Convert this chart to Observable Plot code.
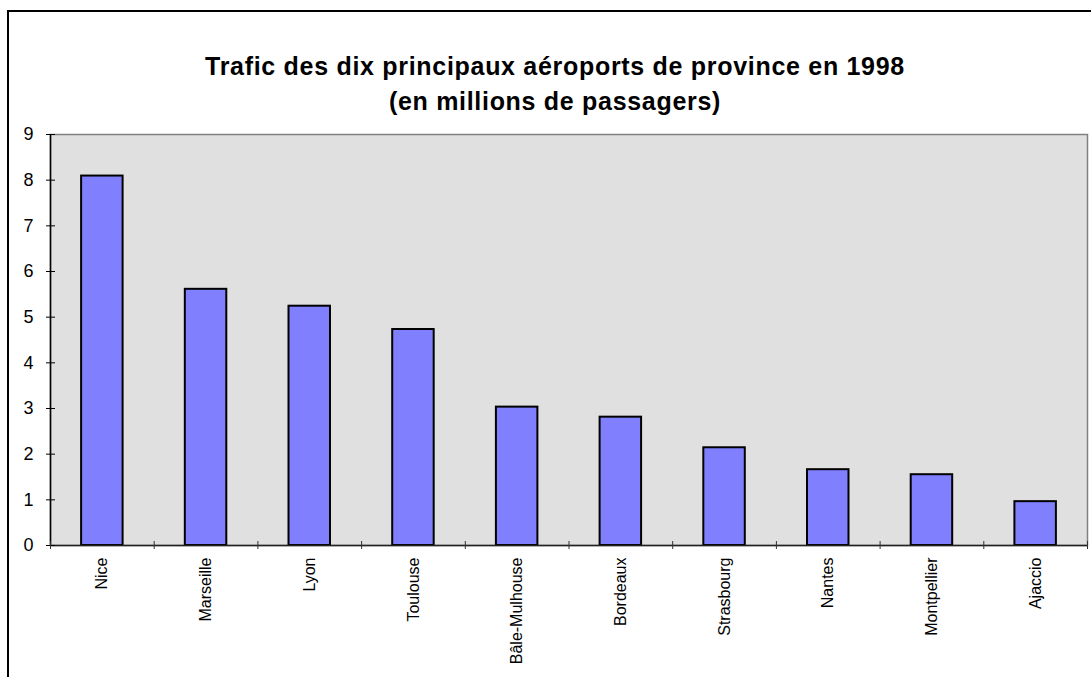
<!DOCTYPE html>
<html>
<head>
<meta charset="utf-8">
<script src="https://cdn.jsdelivr.net/npm/d3@7"></script>
<script src="https://cdn.jsdelivr.net/npm/@observablehq/plot@0.6"></script>
<style>
  html, body { margin: 0; padding: 0; background: #fff; overflow: hidden; }
  #wrap { position: relative; width: 1091px; height: 677px; font-family: "Liberation Sans", Arial, sans-serif; }
  #frame { position: absolute; left: 7px; top: 10px; width: 1200px; height: 800px; border: 2px solid #000; box-sizing: border-box; }
  .title { position: absolute; left: 0; width: 1110px; text-align: center; font-weight: bold; font-size: 25px; letter-spacing: 0.7px; color: #000; white-space: nowrap; }
  #chart { position: absolute; left: 0; top: 0; }
</style>
</head>
<body>
<div id="wrap">
  <div id="frame"></div>
  <div class="title" id="t1" style="top:52px">Trafic des dix principaux aéroports de province en 1998</div>
  <div class="title" id="t2" style="top:87px">(en millions de passagers)</div>
  <div id="chart"></div>
</div>
<script>
const airports = ["Nice", "Marseille", "Lyon", "Toulouse", "Bâle-Mulhouse", "Bordeaux", "Strasbourg", "Nantes", "Montpellier", "Ajaccio"];
const passengers = [8.09, 5.61, 5.24, 4.73, 3.03, 2.81, 2.14, 1.66, 1.55, 0.96];
const yTicks = [0, 1, 2, 3, 4, 5, 6, 7, 8, 9];

const data = airports.map((name, i) => ({name, i, value: passengers[i]}));
const boundaries = d3.range(airports.length + 1);

const chart = Plot.plot({
  width: 1091,
  height: 677,
  marginLeft: 50,
  marginRight: 4,
  marginTop: 134,
  marginBottom: 132,
  style: {fontFamily: "'Liberation Sans', Arial, sans-serif", background: "transparent", overflow: "visible"},
  x: {domain: [0, airports.length], axis: null},
  y: {domain: [0, 9], axis: null},
  marks: [
    Plot.frame({fill: "#e0e0e0", stroke: "#808080", strokeWidth: 1.5}),
    Plot.rectY(data, {x1: d => d.i + 0.3, x2: d => d.i + 0.7, y1: 0, y2: "value", fill: "#8080ff", stroke: "#000", strokeWidth: 2}),
    Plot.ruleX([0], {stroke: "#000", strokeWidth: 1.5}),
    Plot.ruleY([0], {stroke: "#222", strokeWidth: 1.5}),
    Plot.axisY({ticks: yTicks, tickSize: 4, tickPadding: 13, fontSize: 18, tickFormat: d => String(d), color: "#000", label: null}),
    Plot.axisY({ticks: yTicks, tickSize: -5, tickFormat: () => "", color: "#000", label: null}),
    Plot.axisX({ticks: boundaries, tickSize: 4, tickFormat: () => "", color: "#333", label: null}),
    Plot.axisX({ticks: boundaries, tickSize: -4, tickFormat: () => "", color: "#333", label: null}),
    Plot.text(data, {x: d => d.i + 0.5, frameAnchor: "bottom", text: "name", rotate: -90, textAnchor: "end", lineAnchor: "middle", dy: 12, fontSize: 16, fill: "#000"})
  ]
});
document.getElementById("chart").appendChild(chart);
</script>
</body>
</html>
